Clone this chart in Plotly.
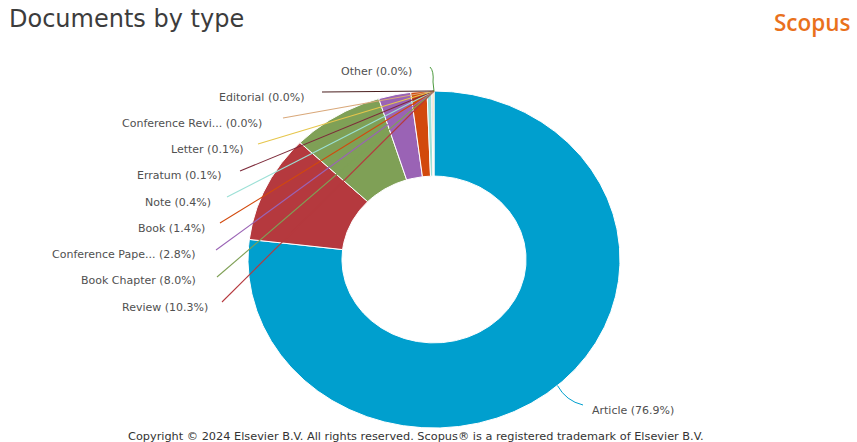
import math
import plotly.graph_objects as go

# Document types and their share of publications (%)
doc_types = ["Article", "Review", "Book Chapter", "Conference Paper", "Book",
             "Note", "Erratum", "Letter", "Conference Review", "Editorial", "Other"]
short_labels = ["Article", "Review", "Book Chapter", "Conference Pape...", "Book",
                "Note", "Erratum", "Letter", "Conference Revi...", "Editorial", "Other"]
shares = [76.9, 10.3, 8.0, 2.8, 1.4, 0.4, 0.1, 0.1, 0.0, 0.0, 0.0]

slice_colors = ["#009fce", "#b5393e", "#7fa056", "#9a63b5", "#d2490c",
                "#9ce0d6", "#7d2a3a", "#e6c64c", "#d9a87a", "#4a1f1f", "#4c9a3e"]

# Canvas and donut geometry (pixels)
W, H = 857, 442
CX, CY = 434, 259.5
RX, RY = 186, 168.5
HOLE = 0.495

# Label placement (pixels): right edge of text, text centre y, leader start point
label_layout = {
    "Review":            (210, 307, (222, 302)),
    "Book Chapter":      (198, 280, (217, 277)),
    "Conference Paper":  (198, 254, (216, 250)),
    "Book":              (207, 228, (220, 223)),
    "Note":              (213, 202, (227, 197)),
    "Erratum":           (224, 175, (240, 171)),
    "Letter":            (246, 149, (258, 144)),
    "Conference Review": (264, 123, (283, 118)),
    "Editorial":         (306, 97, (322, 92)),
    "Other":             (414, 71, (430, 67)),
}


def to_data(px, py):
    return (px - CX) / RX, (CY - py) / RY


def ring_point(frac, r=1.0):
    a = 2 * math.pi * frac
    return r * math.sin(a), r * math.cos(a)


fig = go.Figure()

total = sum(shares)
cum = 0.0
mids = []
for name, val, col in zip(doc_types, shares, slice_colors):
    f0 = cum / total
    f1 = (cum + val) / total
    mids.append((f0 + f1) / 2)
    cum += val
    if val <= 0:
        continue
    n = max(3, int(720 * (f1 - f0)) + 2)
    outer = [ring_point(f0 + (f1 - f0) * i / (n - 1)) for i in range(n)]
    inner = [ring_point(f1 - (f1 - f0) * i / (n - 1), HOLE) for i in range(n)]
    pts = outer + inner + [outer[0]]
    fig.add_trace(go.Scatter(
        x=[p[0] for p in pts], y=[p[1] for p in pts],
        mode="lines", fill="toself", fillcolor=col,
        line=dict(color="white", width=1),
        hoverinfo="skip", showlegend=False,
    ))

font_lbl = dict(family="DejaVu Sans", size=11, color="#505050")
shapes = []
annotations = []

# Small slices: labels stacked on the left, leaders meeting at the top of the ring
top = ring_point(1.0)
for name, short, val, col in zip(doc_types, short_labels, shares, slice_colors):
    if name not in label_layout:
        continue
    rx_, ty, start = label_layout[name]
    x, y = to_data(rx_, ty)
    annotations.append(dict(
        x=x, y=y, xref="x", yref="y", xanchor="right", yanchor="middle",
        text=f"{short} ({val:.1f}%)", showarrow=False, font=font_lbl,
    ))
    sx, sy = to_data(*start)
    if name == "Other":
        mx, my = to_data(434, 71)
        ex, ey = to_data(433, 82)
        shapes.append(dict(
            type="path", xref="x", yref="y",
            path=f"M {sx},{sy} Q {mx},{my} {ex},{ey} L {top[0]},{top[1]}",
            line=dict(color=col, width=1),
        ))
    else:
        shapes.append(dict(
            type="line", xref="x", yref="y",
            x0=sx, y0=sy, x1=top[0], y1=top[1],
            line=dict(color=col, width=1.1),
        ))

# Article: label at the lower right with a short curved leader
amx, amy = ring_point(mids[0])
lx, ly = to_data(583, 405)
cx_, cy_ = to_data(566, 401)
shapes.append(dict(
    type="path", xref="x", yref="y",
    path=f"M {amx},{amy} Q {cx_},{cy_} {lx},{ly}",
    line=dict(color=slice_colors[0], width=1),
))
ax_, ay_ = to_data(590, 410)
annotations.append(dict(
    x=ax_, y=ay_, xref="x", yref="y", xanchor="left", yanchor="middle",
    text=f"{short_labels[0]} ({shares[0]:.1f}%)", showarrow=False, font=font_lbl,
))

# Title, brand mark and footer
annotations.append(dict(
    x=7 / W, y=1 - 19 / H, xref="paper", yref="paper", xanchor="left", yanchor="middle",
    text="Documents by type", showarrow=False,
    font=dict(family="DejaVu Sans", size=24, color="#3c3c3c"),
))
annotations.append(dict(
    x=853 / W, y=1 - 22 / H, xref="paper", yref="paper", xanchor="right", yanchor="middle",
    text="Scopus", showarrow=False,
    font=dict(family="Open Sans", size=22.5, color="#e9711c", weight=600),
))
annotations.append(dict(
    x=415.5 / W, y=1 - 436 / H, xref="paper", yref="paper", xanchor="center", yanchor="middle",
    text="Copyright © 2024 Elsevier B.V. All rights reserved. Scopus® is a registered trademark of Elsevier B.V.",
    showarrow=False, font=dict(family="DejaVu Sans", size=11.3, color="#333333"),
))

fig.update_layout(
    width=W, height=H,
    margin=dict(l=0, r=0, t=0, b=0),
    paper_bgcolor="white", plot_bgcolor="white",
    showlegend=False,
    xaxis=dict(range=[-CX / RX, (W - CX) / RX], visible=False, fixedrange=True),
    yaxis=dict(range=[-(H - CY) / RY, CY / RY], visible=False, fixedrange=True),
    shapes=shapes,
    annotations=annotations,
)

fig.write_html("out.html", config={"displayModeBar": False})
